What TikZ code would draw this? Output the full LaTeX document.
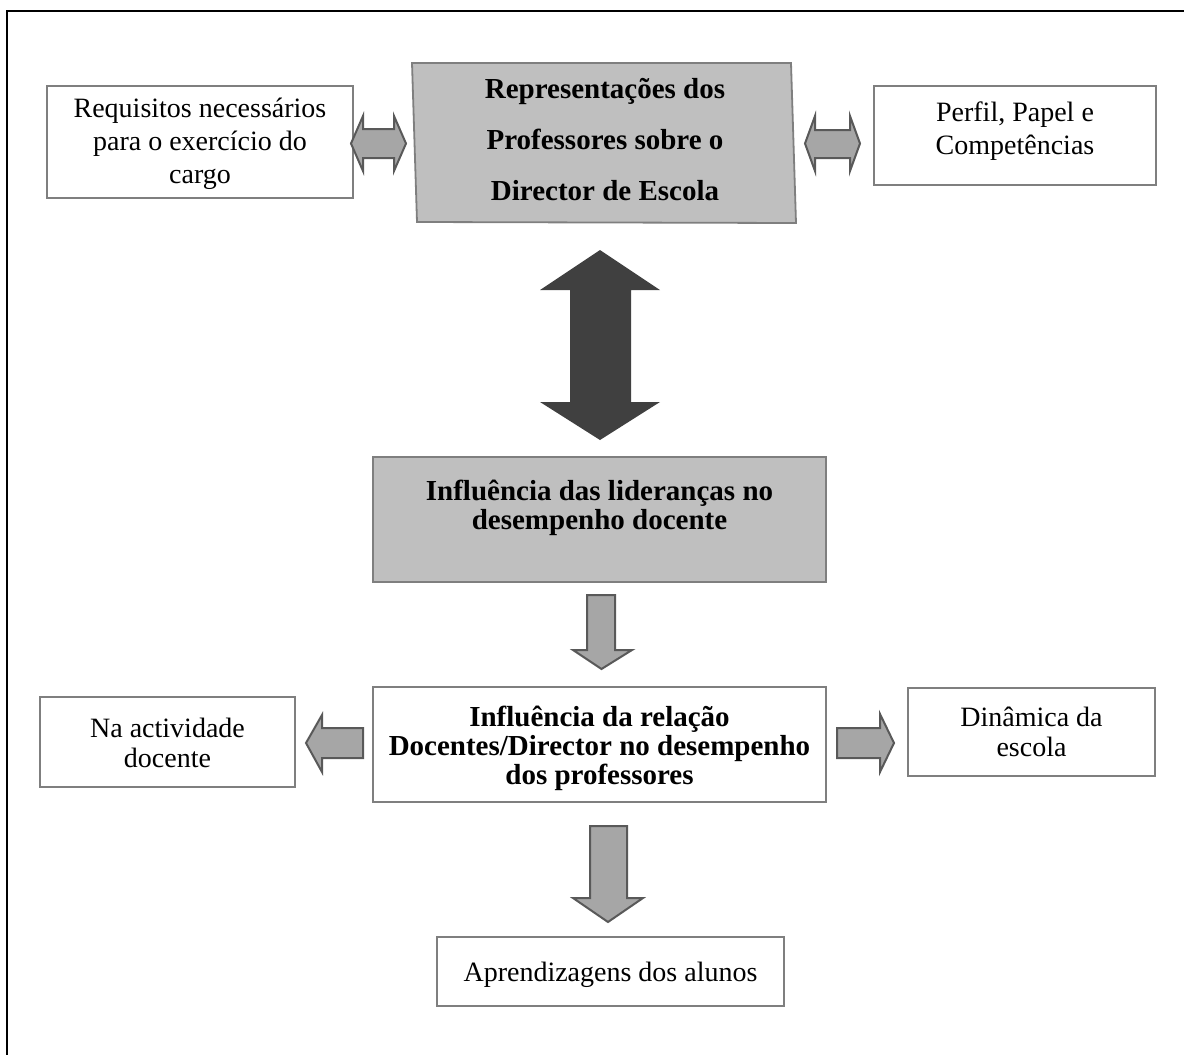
\documentclass[tikz,border=0pt]{standalone}
\usepackage{fontspec}
\setmainfont{Liberation Serif}
\definecolor{boxgray}{HTML}{7F7F7F}
\definecolor{topfill}{HTML}{BFBFBF}
\definecolor{arrfill}{HTML}{A6A6A6}
\definecolor{arrdraw}{HTML}{595959}
\definecolor{bigarr}{HTML}{404040}
\begin{document}
\begin{tikzpicture}[x=0.5pt,y=-0.5pt,
  box/.style={draw=boxgray, line width=0.9pt, fill=white, inner sep=0pt},
  graybox/.style={box, fill=topfill},
  txt/.style={align=center, inner sep=0pt, font=\fontsize{14}{16.5}\selectfont},
  stxt/.style={align=center, inner sep=0pt, font=\fontsize{14}{15}\selectfont},
  btxt/.style={align=center, inner sep=0pt, font=\fontsize{14.5}{14.5}\selectfont\bfseries},
  blockarrow/.style={draw=arrdraw, fill=arrfill, line width=1pt, line join=miter},
  bigarrow/.style={fill=bigarr, draw=none}]
\useasboundingbox (0,0) rectangle (1184,1055);
% outer frame
\draw[line width=1.25pt] (7,1056) -- (7,11) -- (1185,11);

% top row
\node[box, minimum width=153pt, minimum height=56pt] (req) at (200,142) {};
\node[txt] (reqt) at (200,144) {Requisitos necessários\\para o exercício do\\cargo};

\draw[draw=boxgray, line width=0.9pt, fill=topfill] (412,63) -- (791,63) -- (796,223) -- (417,222) -- cycle;
\node[align=center, inner sep=0pt, font=\fontsize{14.5}{25.5}\selectfont\bfseries] (rep) at (605,139.5)
  {Representações dos\\Professores sobre o\\Director de Escola};

\node[box, minimum width=141pt, minimum height=49.5pt] (perf) at (1015,135.5) {};
\node[txt] (perft) at (1015,131) {Perfil, Papel e\\Competências};

% middle
\node[graybox, minimum width=226.5pt, minimum height=62.5pt] (infl) at (599.5,519.5) {};
\node[btxt] (inflt) at (599.5,508) {Influência das lideranças no\\desempenho docente};

\node[box, minimum width=226.5pt, minimum height=57.5pt] (rel) at (599.5,744.5) {};
\node[btxt] (relt) at (599.5,748) {Influência da relação\\Docentes/Director no desempenho\\dos professores};

\node[box, minimum width=127.5pt, minimum height=45pt] (na) at (167.5,742) {};
\node[stxt] (nat) at (167.5,742.5) {Na actividade\\docente};

\node[box, minimum width=123.5pt, minimum height=44pt] (din) at (1031.5,732) {};
\node[stxt] (dint) at (1031.5,731.5) {Dinâmica da\\escola};

\node[box, minimum width=173.5pt, minimum height=34.5pt] (apr) at (610.5,971.5) {};
\node[txt] (aprt) at (610.5,975) {Aprendizagens dos alunos};

% block arrows
\draw[blockarrow] (351,143.5) -- (363,116) -- (363,129) -- (394,129) -- (394,116) -- (406,143.5)
  -- (394,171) -- (394,158) -- (363,158) -- (363,171) -- cycle;
\draw[blockarrow] (805,143.5) -- (815,116) -- (815,130) -- (850,130) -- (850,116) -- (860,143.5)
  -- (850,171) -- (850,158) -- (815,158) -- (815,171) -- cycle;
\fill[bigarrow] (600,250) -- (660,290) -- (631,290) -- (631,402) -- (660,402) -- (600,440)
  -- (540,402) -- (570,402) -- (570,290) -- (540,290) -- cycle;
\draw[blockarrow] (587,595) -- (615,595) -- (615,650) -- (632,650) -- (601.5,669) -- (573,650) -- (587,650) -- cycle;
\draw[blockarrow] (363,728) -- (363,758) -- (322,758) -- (322,772) -- (306,743) -- (322,715) -- (322,728) -- cycle;
\draw[blockarrow] (837,728) -- (880,728) -- (880,714) -- (894,743) -- (880,772) -- (880,758) -- (837,758) -- cycle;
\draw[blockarrow] (590,826) -- (627,826) -- (627,898) -- (643,898) -- (608,922) -- (573,898) -- (590,898) -- cycle;
\end{tikzpicture}
\end{document}
